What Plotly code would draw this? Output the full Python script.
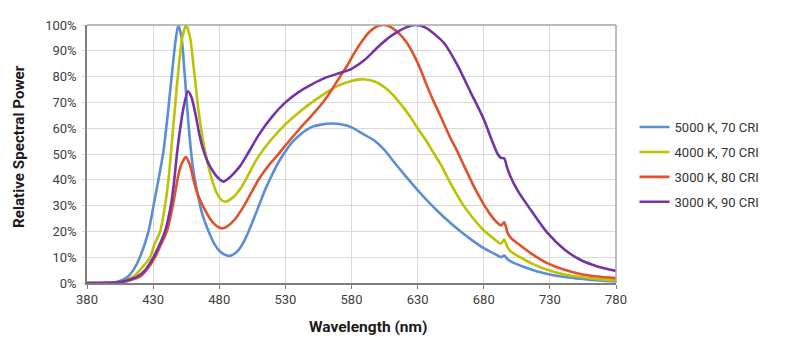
import plotly.graph_objects as go

# ---- data ----
names = ["5000 K, 70 CRI", "4000 K, 70 CRI", "3000 K, 80 CRI", "3000 K, 90 CRI"]
colors = ["#5b8ed7", "#bcc300", "#e0522b", "#7434a6"]

wl_5000 = [380, 395, 403, 408, 411, 415, 420, 426.5, 430.3, 434, 437.5, 441, 444, 446.5, 449, 451.5, 454, 457,
           460, 463.5, 467, 472, 476.5, 481, 485, 488, 492, 496, 500, 505, 510, 515, 520, 525, 530, 535, 540,
           545, 550, 556, 565, 574, 580, 588, 597, 605, 612, 620, 630, 640, 650, 660, 670, 680, 690, 693,
           695.5, 698, 700, 710, 720, 730, 740, 750, 760, 770, 780]
sp_5000 = [0, 0.1, 0.5, 1.5, 2.5, 5, 10, 20, 30, 40, 50, 65, 80, 92, 100, 95, 80, 60,
           45, 35, 27, 20, 15, 12, 10.8, 10.5, 11.5, 13.8, 17.5, 23.5, 30, 36.5, 42, 47, 51, 54.5, 57,
           59, 60.5, 61.3, 61.8, 61.3, 60.3, 58, 55.3, 51.5, 47, 42, 36, 30.5, 25.5, 21, 17, 13.5, 10.8, 10,
           10.6, 9.2, 8.5, 6.3, 4.6, 3.3, 2.4, 1.8, 1.3, 0.9, 0.6]

wl_4000 = [380, 400, 408, 415, 420, 427.7, 431, 435.3, 439, 441.6, 443.4, 446, 449, 452, 455, 458, 461,
           464.5, 468, 471, 474.5, 478, 481, 484.5, 490, 496, 502, 509, 520, 530, 540, 550, 560, 570, 580,
           589, 598, 606, 612, 620, 625, 630, 636, 642, 648, 655, 665, 678, 688, 693, 695.5, 698, 701, 708,
           716, 728, 741, 753, 766, 780]
sp_4000 = [0, 0.1, 0.8, 2.5, 5, 10, 15, 20, 30, 40, 50, 65, 82, 95, 100, 95, 82,
           66, 54.5, 47, 40, 35, 32.5, 31.5, 33, 36.5, 42, 48.5, 56, 61.5, 66, 70, 73.5, 76.5, 78.3,
           79, 78, 75.5, 72.5, 67.5, 64, 60, 55.5, 50.5, 45.5, 38.5, 29.8, 21.5, 17, 15.3, 16.8, 13.8, 12, 9.8,
           7.6, 5.1, 3.3, 2.3, 1.5, 1]

wl_3080 = [380, 405, 412, 420, 425, 431.5, 436, 440.4, 444.9, 448.4, 451, 454.8, 458, 460.5, 464, 468, 472,
           476, 479.5, 482.8, 487, 492, 498, 504, 510, 518, 524, 530, 540, 550, 556, 562, 567, 572, 577,
           582, 587, 592, 597, 601, 604, 608, 612, 617, 622, 627, 632, 637, 642, 647, 655, 660, 665, 675,
           685, 690, 693, 695.5, 698, 700.5, 706, 716, 728, 741, 753, 766, 780]
sp_3080 = [0, 0.2, 1, 2.5, 5, 10, 15, 20, 30, 40, 45.5, 48.8, 45.5, 40, 34, 29.5, 25.8,
           23, 21.6, 21.2, 22.3, 24.8, 29.3, 34.8, 40.3, 46, 49.5, 53.3, 59.3, 65, 68.5, 72.5, 76.5, 80.5, 84.5,
           89, 93, 96.5, 98.8, 99.8, 100, 99.6, 98.4, 96.2, 93, 88.5, 83, 76.5, 70.5, 65, 56, 51, 45.5, 35,
           26.5, 23.5, 22.3, 23.5, 19.5, 17.5, 15.2, 11.4, 7.7, 5.1, 3.5, 2.5, 1.9]

wl_3090 = [380, 403, 410, 418, 424, 430.3, 435, 439, 443.4, 446, 448, 450.5, 453, 456.3, 459, 462, 465,
           468, 471, 474, 477, 480, 483.3, 487, 491, 496, 502, 510, 520, 530, 540, 550, 560, 570, 580, 590,
           600, 610, 620, 628, 636, 645, 650, 660, 670, 680, 686, 690.5, 693, 695.5, 697.5, 700, 706, 716,
           728, 741, 753, 766, 780]
sp_3090 = [0, 0.3, 1, 2.5, 5, 10, 15, 20, 30, 40, 50, 60, 68, 74.3, 72, 65.5, 57.5,
           51.5, 47.3, 44.3, 42, 40.3, 39.3, 40.5, 42.5, 45.5, 50.5, 57.5, 64.5, 70, 74, 77, 79.5, 81.2, 83, 86.5,
           91.5, 95.8, 98.8, 100, 99, 95.5, 93, 84.5, 74, 63.5, 55.5, 50, 48.5, 48.3, 45, 41.5, 35.5, 28,
           19.5, 13, 9, 6.4, 4.7]

x_ticks = [380, 430, 480, 530, 580, 630, 680, 730, 780]
y_ticks = [0, 10, 20, 30, 40, 50, 60, 70, 80, 90, 100]
y_tick_labels = [f"{v}%" for v in y_ticks]
x_title = "Wavelength (nm)"
y_title = "Relative Spectral Power"

series = [(wl_5000, sp_5000), (wl_4000, sp_4000), (wl_3080, sp_3080), (wl_3090, sp_3090)]

fig = go.Figure()
for i, ((wl, sp), name, color) in enumerate(zip(series, names, colors)):
    fig.add_trace(go.Scatter(
        x=wl, y=sp, mode="lines", name=name, legendgroup=f"g{i}",
        line=dict(color=color, width=2.6, shape="spline", smoothing=0.7),
    ))

font_family = "Roboto, Arial, sans-serif"
fig.update_layout(
    width=800, height=342,
    margin=dict(l=87, r=184, t=25, b=59),
    paper_bgcolor="white", plot_bgcolor="white",
    font=dict(family=font_family, size=13, color="#404040"),
    showlegend=True,
    legend=dict(
        x=1.035, y=0.459, xanchor="left", yanchor="middle",
        font=dict(size=13, color="#333333"),
        tracegroupgap=5, itemwidth=30,
        bgcolor="rgba(0,0,0,0)",
    ),
)
fig.update_xaxes(
    range=[380, 780], tickvals=x_ticks, ticktext=[str(v) for v in x_ticks],
    showgrid=True, gridcolor="#d9d9d9", gridwidth=1,
    showline=True, linecolor="#7f7f7f", linewidth=1.5,
    ticks="outside", ticklen=4, tickcolor="#7f7f7f",
    zeroline=False,
    tickfont=dict(size=13, color="#404040"),
)
fig.update_yaxes(
    range=[0, 100], tickvals=y_ticks, ticktext=y_tick_labels,
    showgrid=True, gridcolor="#d9d9d9", gridwidth=1,
    showline=True, linecolor="#7f7f7f", linewidth=1.5,
    ticks="outside", ticklen=3, tickcolor="#d9d9d9",
    ticklabelstandoff=3,
    zeroline=False,
    tickfont=dict(size=13, color="#404040"),
)
# axis titles
fig.add_annotation(text=f"<b>{x_title}</b>", xref="paper", yref="paper",
                   x=(368 - 87) / 529, y=-(326.5 - 283) / 258, xanchor="center", yanchor="middle",
                   showarrow=False, font=dict(size=15.5, color="#1a1a1a", family=font_family))
fig.add_annotation(text=f"<b>{y_title}</b>", xref="paper", yref="paper",
                   x=-(87 - 18.5) / 529, y=(283 - 146.5) / 258, xanchor="center", yanchor="middle",
                   textangle=-90, showarrow=False,
                   font=dict(size=15.2, color="#1a1a1a", family=font_family))
# top and right frame lines
fig.add_shape(type="line", xref="paper", yref="paper", x0=0, x1=1, y0=1, y1=1,
              line=dict(color="#a6a6a6", width=1.5))
fig.add_shape(type="line", xref="paper", yref="paper", x0=1, x1=1, y0=0, y1=1,
              line=dict(color="#a6a6a6", width=1.5))

fig.write_html("out.html")
